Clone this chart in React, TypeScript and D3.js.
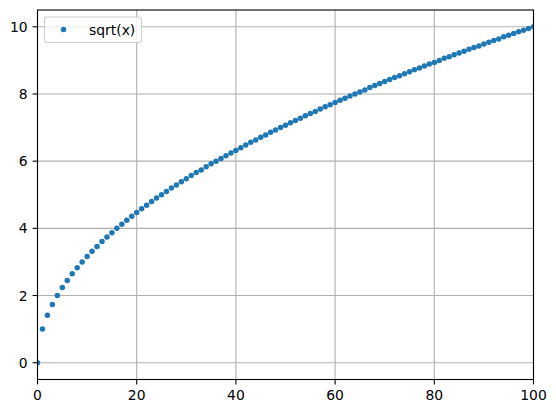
import React from "react";
import * as d3 from "d3";

const xValues = [0,1,2,3,4,5,6,7,8,9,10,11,12,13,14,15,16,17,18,19,20,21,22,23,24,25,26,27,28,29,30,31,32,33,34,35,36,37,38,39,40,41,42,43,44,45,46,47,48,49,50,51,52,53,54,55,56,57,58,59,60,61,62,63,64,65,66,67,68,69,70,71,72,73,74,75,76,77,78,79,80,81,82,83,84,85,86,87,88,89,90,91,92,93,94,95,96,97,98,99,100];
const yValues = [0,1,1.41,1.73,2,2.24,2.45,2.65,2.83,3,3.16,3.32,3.46,3.61,3.74,3.87,4,4.12,4.24,4.36,4.47,4.58,4.69,4.8,4.9,5,5.1,5.2,5.29,5.39,5.48,5.57,5.66,5.74,5.83,5.92,6,6.08,6.16,6.24,6.32,6.4,6.48,6.56,6.63,6.71,6.78,6.86,6.93,7,7.07,7.14,7.21,7.28,7.35,7.42,7.48,7.55,7.62,7.68,7.75,7.81,7.87,7.94,8,8.06,8.12,8.19,8.25,8.31,8.37,8.43,8.49,8.54,8.6,8.66,8.72,8.77,8.83,8.89,8.94,9,9.06,9.11,9.17,9.22,9.27,9.33,9.38,9.43,9.49,9.54,9.59,9.64,9.7,9.75,9.8,9.85,9.9,9.95,10];
const xTicks = [0,20,40,60,80,100];
const yTicks = [0,2,4,6,8,10];
const seriesLabel = "sqrt(x)";

export default function App() {
  const W = 556, H = 413;
  const left = 37.5, right = 533.5, top = 10, bottom = 379.5;
  const x = d3.scaleLinear().domain([0, 100]).range([left, right]);
  const y = d3.scaleLinear().domain([-0.5, 10.5]).range([bottom, top]);
  const font = "DejaVu Sans, sans-serif";
  const fs = 13.9;
  const color = "#1f77b4";
  const r = 2.75;
  return (
    <svg width={W} height={H} style={{ position: "absolute", left: 0, top: 0, background: "#fff" }}>
      <defs>
        <clipPath id="plotclip">
          <rect x={left} y={top} width={right - left} height={bottom - top} />
        </clipPath>
      </defs>
      <rect x={0} y={0} width={W} height={H} fill="#fff" />
      <g stroke="#b0b0b0" strokeWidth={1.1}>
        {xTicks.map((t) => (
          <line key={"gx" + t} x1={x(t)} x2={x(t)} y1={top} y2={bottom} />
        ))}
        {yTicks.map((t) => (
          <line key={"gy" + t} x1={left} x2={right} y1={y(t)} y2={y(t)} />
        ))}
      </g>
      <g clipPath="url(#plotclip)" fill={color}>
        {xValues.map((xv, i) => (
          <circle key={i} cx={x(xv)} cy={y(yValues[i])} r={r} />
        ))}
      </g>
      <rect x={left} y={top} width={right - left} height={bottom - top} fill="none" stroke="#000" strokeWidth={1.1} />
      <g fontFamily={font} fontSize={fs} fill="#000">
        {xTicks.map((t) => (
          <g key={"xt" + t}>
            <line x1={x(t)} x2={x(t)} y1={bottom} y2={bottom + 4.9} stroke="#000" strokeWidth={1.1} />
            <text x={x(t)} y={bottom + 4.9 + 4.9} dy="0.76em" textAnchor="middle">{t}</text>
          </g>
        ))}
        {yTicks.map((t) => (
          <g key={"yt" + t}>
            <line x1={left - 4.9} x2={left} y1={y(t)} y2={y(t)} stroke="#000" strokeWidth={1.1} />
            <text x={left - 4.9 - 4.9} y={y(t)} dy="0.36em" textAnchor="end">{t}</text>
          </g>
        ))}
      </g>
      <g>
        <rect x={44.5} y={17} width={97} height={25.5} rx={2.5} fill="#fff" fillOpacity={0.8} stroke="#cccccc" strokeWidth={1.1} />
        <circle cx={63.5} cy={29.5} r={r} fill={color} />
        <text x={89} y={29.5} dy="0.36em" fontFamily={font} fontSize={fs} fill="#000">{seriesLabel}</text>
      </g>
    </svg>
  );
}
